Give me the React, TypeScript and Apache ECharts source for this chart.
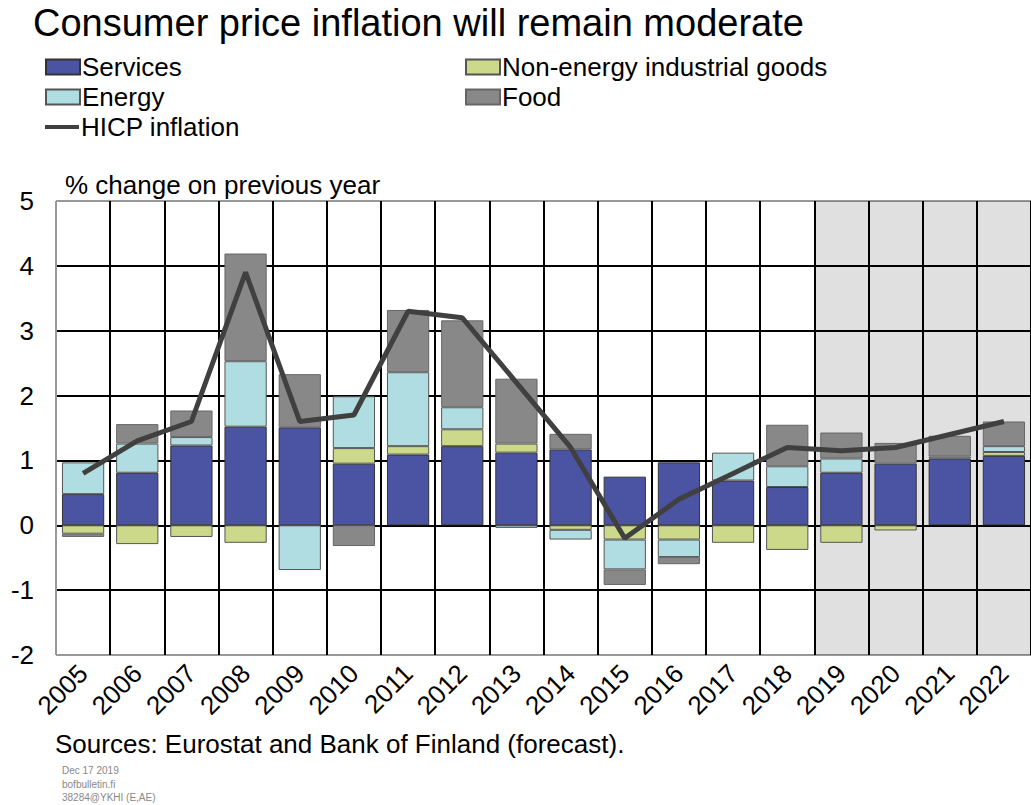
import React, { useEffect, useRef } from "react";
import * as echarts from "echarts";

const years = ["2005","2006","2007","2008","2009","2010","2011","2012","2013","2014","2015","2016","2017","2018","2019","2020","2021","2022"];
const services = [0.48, 0.81, 1.23, 1.52, 1.51, 0.95, 1.09, 1.22, 1.12, 1.17, 0.75, 0.97, 0.69, 0.59, 0.81, 0.95, 1.03, 1.07];
const nonEnergy = [-0.13, -0.29, -0.18, -0.27, 0, 0.24, 0.13, 0.26, 0.14, -0.07, -0.22, -0.22, -0.27, -0.38, -0.27, -0.08, 0, 0.06];
const energy = [0.49, 0.45, 0.13, 1.01, -0.69, 0.80, 1.14, 0.34, -0.04, -0.15, -0.46, -0.27, 0.43, 0.32, 0.22, 0, 0.03, 0.09];
const food = [-0.05, 0.30, 0.41, 1.66, 0.82, -0.32, 0.96, 1.34, 1.00, 0.24, -0.24, -0.11, 0, 0.64, 0.40, 0.32, 0.32, 0.38];
const hicp = [0.8, 1.3, 1.6, 3.9, 1.6, 1.7, 3.3, 3.2, 2.2, 1.2, -0.2, 0.4, 0.8, 1.2, 1.15, 1.2, 1.4, 1.6];
const forecastStart = "2019";
const yTicks = [-2, -1, 0, 1, 2, 3, 4, 5];

const FONT = "'Liberation Sans Narrow', 'Liberation Sans', Arial, sans-serif";

export default function App() {
  const ref = useRef<HTMLDivElement>(null);
  useEffect(() => {
    if (!ref.current) return;
    const chart = echarts.init(ref.current, undefined, { renderer: "svg" });
    const nz = (a: number[]) => a.map((v) => (v === 0 ? null : v));
    const barBase = {
      type: "bar",
      stack: "total",
      barCategoryGap: "22%",
      z: 3,
    };
    const fIdx = years.indexOf(forecastStart);
    const yColors = yTicks.map((_, i) => (i === 0 || i === yTicks.length - 1 ? "#999" : "#000"));
    const xColors = [...years, "end"].map((_, i) => (i === 0 ? "#999" : "#000"));
    const legendText = { fontFamily: FONT, fontSize: 26, lineHeight: 26, color: "#000", padding: [0, 0, 0, -3] };
    chart.setOption({
      animation: false,
      backgroundColor: "#fff",
      textStyle: { fontFamily: FONT },
      title: {
        text: "Consumer price inflation will remain moderate",
        left: 33,
        top: 4,
        padding: 0,
        textStyle: { fontFamily: FONT, fontSize: 38, fontWeight: "normal", color: "#000" },
      },
      legend: [
        {
          left: 45,
          top: 54,
          padding: 0,
          orient: "vertical",
          itemWidth: 34,
          itemHeight: 15,
          itemGap: 4,
          textStyle: legendText,
          data: [
            { name: "Services", icon: "rect" },
            { name: "Energy", icon: "rect" },
          ],
        },
        {
          left: 45,
          top: 114,
          padding: 0,
          orient: "vertical",
          itemWidth: 34,
          itemHeight: 4,
          textStyle: legendText,
          data: [{ name: "HICP inflation", icon: "rect" }],
        },
        {
          left: 465,
          top: 54,
          padding: 0,
          orient: "vertical",
          itemWidth: 34,
          itemHeight: 15,
          itemGap: 4,
          textStyle: legendText,
          data: [
            { name: "Non-energy industrial goods", icon: "rect" },
            { name: "Food", icon: "rect" },
          ],
        },
      ],
      grid: { left: 56, right: 0, top: 201, bottom: 150, containLabel: false },
      xAxis: [
        {
          type: "category",
          data: years,
          axisLine: { show: false },
          axisTick: { show: false },
          splitLine: { show: true, lineStyle: { color: xColors, width: 2 } },
          axisLabel: { rotate: 45, fontSize: 26, color: "#000", margin: 14, fontFamily: FONT, interval: 0 },
        },
        { type: "value", min: 0, max: years.length, show: false },
      ],
      yAxis: {
        type: "value",
        min: -2,
        max: 5,
        interval: 1,
        axisLine: { show: false },
        axisTick: { show: false },
        splitLine: { show: true, lineStyle: { color: yColors, width: 2 } },
        axisLabel: { fontSize: 26, color: "#000", margin: 22, fontFamily: FONT },
      },
      graphic: [
        {
          type: "text",
          left: 65,
          top: 172,
          style: { text: "% change on previous year", fontSize: 26, fontFamily: FONT, fill: "#000" },
        },
        {
          type: "text",
          left: 55,
          top: 731,
          style: { text: "Sources: Eurostat and Bank of Finland (forecast).", fontSize: 26, fontFamily: FONT, fill: "#000" },
        },
        {
          type: "text",
          left: 62,
          top: 764,
          style: {
            text: "Dec 17 2019\nbofbulletin.fi\n38284@YKHI (E,AE)",
            fontSize: 10,
            lineHeight: 13.5,
            fontFamily: FONT,
            fill: "#888",
          },
        },
      ],
      series: [
        {
          name: "forecast",
          type: "line",
          xAxisIndex: 1,
          data: [],
          z: 1,
          silent: true,
          markArea: {
            silent: true,
            itemStyle: { color: "rgba(0,0,0,0.12)" },
            data: [[{ xAxis: fIdx }, { xAxis: years.length }]],
          },
        },
        { ...barBase, name: "Services", data: nz(services), itemStyle: { color: "#4b53a3", borderColor: "#333", borderWidth: 1 } },
        { ...barBase, name: "Non-energy industrial goods", data: nz(nonEnergy), itemStyle: { color: "#ccd98a", borderColor: "#555", borderWidth: 1 } },
        { ...barBase, name: "Energy", data: nz(energy), itemStyle: { color: "#b0dde1", borderColor: "#555", borderWidth: 1 } },
        { ...barBase, name: "Food", data: nz(food), itemStyle: { color: "#888888", borderColor: "#666", borderWidth: 1 } },
        {
          name: "HICP inflation",
          type: "line",
          data: hicp,
          symbol: "none",
          z: 5,
          lineStyle: { color: "#404040", width: 5 },
          itemStyle: { color: "#404040" },
        },
      ],
    });
    return () => chart.dispose();
  }, []);
  return <div ref={ref} style={{ position: "absolute", left: 0, top: 0, width: 1031, height: 805 }} />;
}
